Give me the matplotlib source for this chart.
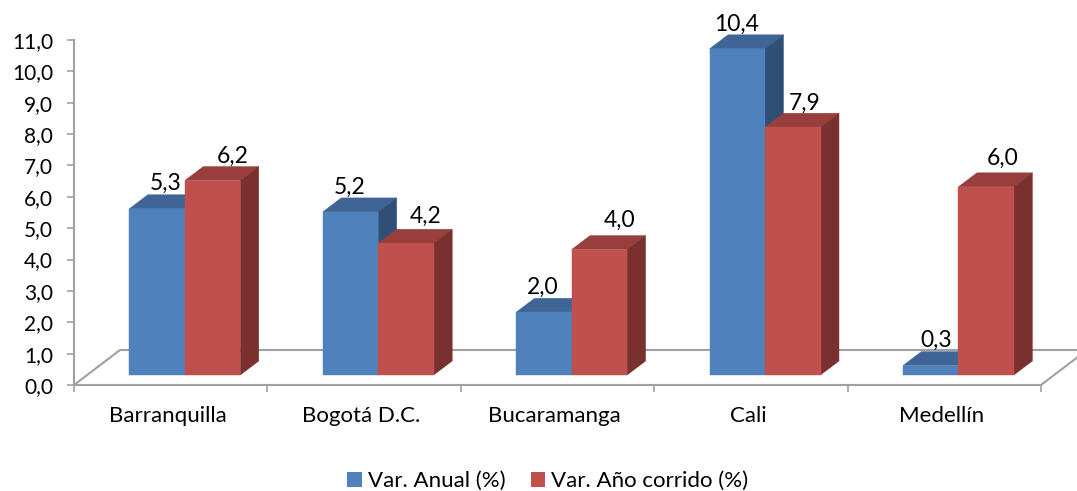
import matplotlib
matplotlib.use('Agg')
import matplotlib.pyplot as plt
from matplotlib.patches import Polygon, Patch

# Datos
ciudades = ['Barranquilla', 'Bogotá D.C.', 'Bucaramanga', 'Cali', 'Medellín']
var_anual = [5.3, 5.2, 2.0, 10.4, 0.3]
var_corrido = [6.2, 4.2, 4.0, 7.9, 6.0]
ticks_y = [0, 1, 2, 3, 4, 5, 6, 7, 8, 9, 10, 11]

# Ajuste a mano de las etiquetas (pixeles)
dx_anual = [9, -1, -1, -1, 6]
dy_anual = [25, 25, 25, 24, 25]
dx_corrido = [20, 20, 20, 12, 16]
dy_corrido = [24, 27, 29, 24, 28]

W, H = 1077, 491
left, right, top, bottom = 74, 1041, 40, 385
px_x = (right - left) / 5
px_y = (bottom - top) / 11

# Profundidad en unidades de datos
bar_w = 55.5 / px_x
bar_start = 55.3 / px_x
dep_x = 18.5 / px_x
dep_y = 14 / px_y
base = 10 / px_y
floor_x = 46 / px_x
floor_y = 35 / px_y

AZUL = ('#4F81BD', '#3E6595', '#2F4F76')
ROJO = ('#C0504D', '#983E3C', '#7A302F')
GRIS = '#A0A0A0'

fig = plt.figure(figsize=(W / 100, H / 100), dpi=100)
ax = fig.add_axes([left / W, 1 - bottom / H, (right - left) / W, (bottom - top) / H])
ax.set_xlim(0, 5)
ax.set_ylim(0, 11)
for s in ['top', 'right']:
    ax.spines[s].set_visible(False)
for s in ['left', 'bottom']:
    ax.spines[s].set_color(GRIS)
    ax.spines[s].set_linewidth(1.5)

# Piso
ax.plot([0, floor_x, 5 + floor_x], [0, floor_y, floor_y], color=GRIS, lw=1.5, clip_on=False, zorder=1)
ax.plot([5, 5 + floor_x], [0, floor_y], color=GRIS, lw=1.5, clip_on=False, zorder=1)


def barra(x0, v, colores):
    x1 = x0 + bar_w
    y0 = base
    y1 = base + v
    caras = [
        ([(x0, y1), (x1, y1), (x1 + dep_x, y1 + dep_y), (x0 + dep_x, y1 + dep_y)], colores[1]),
        ([(x1, y0), (x1 + dep_x, y0 + dep_y), (x1 + dep_x, y1 + dep_y), (x1, y1)], colores[2]),
        ([(x0, y0), (x1, y0), (x1, y1), (x0, y1)], colores[0]),
    ]
    for pts, c in caras:
        ax.add_patch(Polygon(pts, closed=True, facecolor=c, edgecolor=c, lw=0.3, clip_on=False, zorder=2))


def etiqueta(x0, v, dx, dy):
    ax.annotate(f'{v:.1f}'.replace('.', ','), (x0 + bar_w / 2, base + v),
                xytext=(dx, dy), textcoords='offset pixels', ha='center', va='center',
                fontsize=16.5, family='Lato', color='black', annotation_clip=False, zorder=5)


for i in range(len(ciudades)):
    x_a = i + bar_start
    x_c = x_a + bar_w
    barra(x_a, var_anual[i], AZUL)
    barra(x_c, var_corrido[i], ROJO)
    etiqueta(x_a, var_anual[i], dx_anual[i], dy_anual[i])
    etiqueta(x_c, var_corrido[i], dx_corrido[i], dy_corrido[i])

# Ejes
ax.set_yticks(ticks_y)
ax.set_yticklabels([f'{t:.1f}'.replace('.', ',') for t in ticks_y], fontsize=15, family='Lato')
ax.tick_params(axis='y', length=5, width=1.2, color=GRIS, pad=10)
ax.set_xticks(range(6))
ax.set_xticklabels([])
ax.tick_params(axis='x', which='major', length=5, width=1.2, color=GRIS)
ax.set_xticks([i + 0.485 for i in range(5)], minor=True)
ax.set_xticklabels(ciudades, minor=True, fontsize=16, family='Lato')
ax.tick_params(axis='x', which='minor', length=0, pad=15)

# Leyenda
manejadores = [Patch(facecolor=AZUL[0], label='Var. Anual (%)'),
               Patch(facecolor=ROJO[0], label='Var. Año corrido (%)')]
fig.legend(handles=manejadores, loc='center', bbox_to_anchor=(548 / W, 1 - 481 / H), ncol=2,
           frameon=False, prop={'family': 'Lato', 'size': 16}, handlelength=0.65,
           handleheight=0.65, handletextpad=0.27, columnspacing=1.15, borderpad=0)

fig.savefig('out.png', dpi=100)
